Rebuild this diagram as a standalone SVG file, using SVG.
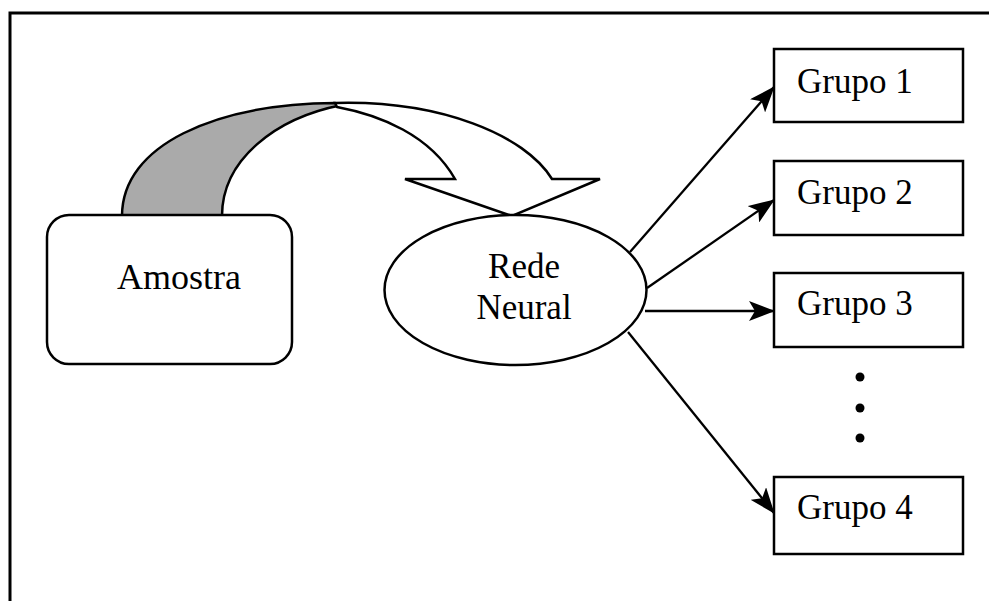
<svg xmlns="http://www.w3.org/2000/svg" width="989" height="601" viewBox="0 0 989 601">
  <defs>
    <marker id="ah" viewBox="0 0 26 20" refX="25" refY="10" markerWidth="26" markerHeight="20" markerUnits="userSpaceOnUse" orient="auto">
      <path d="M0,0 L26,10 L0,20 L6,10 Z" fill="#000"/>
    </marker>
    <style>
      .lbl { font-family: "Liberation Serif", "Times New Roman", serif; font-size: 35px; fill: #000; }
      .box { fill: #fff; stroke: #000; stroke-width: 2.5; }
      .conn { stroke: #000; stroke-width: 2.3; fill: none; marker-end: url(#ah); }
    </style>
  </defs>
  <rect x="0" y="0" width="989" height="601" fill="#fff"/>
  <g id="frame">
    <path d="M10,620 L10,13 L1000,13" fill="none" stroke="#000" stroke-width="3"/>
  </g>
  <g id="curved-arrow">
    <path d="M122,216 C122,145 215,104 335,103 L342,105 C275,118 222,160 222,216 Z" fill="#aaaaaa" stroke="#000" stroke-width="2.5"/>
    <path d="M335,103 C440,100 525,135 552,179 L600,179 L512,216 L405,179 L455,179 C430,135 380,115 337,107 Z" fill="#fff" stroke="#000" stroke-width="2.5" stroke-linejoin="miter"/>
  </g>
  <g id="amostra">
    <rect class="box" x="47" y="215" width="245" height="149" rx="22" ry="22"/>
    <text class="lbl" x="117" y="289" style="font-size:36px">Amostra</text>
  </g>
  <g id="rede-neural">
    <ellipse cx="515.5" cy="290" rx="131" ry="75" fill="#fff" stroke="#000" stroke-width="2.5"/>
    <text class="lbl" x="524" y="278" text-anchor="middle">Rede</text>
    <text class="lbl" x="524" y="319" text-anchor="middle">Neural</text>
  </g>
  <g id="grupo1">
    <rect class="box" x="774" y="49" width="189" height="73"/>
    <text class="lbl" x="797" y="93">Grupo 1</text>
  </g>
  <g id="grupo2">
    <rect class="box" x="774" y="161" width="189" height="74"/>
    <text class="lbl" x="797" y="204">Grupo 2</text>
  </g>
  <g id="grupo3">
    <rect class="box" x="774" y="273" width="189" height="74"/>
    <text class="lbl" x="797" y="315">Grupo 3</text>
  </g>
  <g id="grupo4">
    <rect class="box" x="774" y="477" width="189" height="77"/>
    <text class="lbl" x="797" y="519">Grupo 4</text>
  </g>
  <g id="ellipsis">
    <circle cx="860" cy="377" r="4.5" fill="#000"/>
    <circle cx="860" cy="408" r="4.5" fill="#000"/>
    <circle cx="860" cy="438" r="4.5" fill="#000"/>
  </g>
  <g id="connectors">
    <line class="conn" x1="630" y1="252" x2="774" y2="87"/>
    <line class="conn" x1="647" y1="288" x2="774" y2="200"/>
    <line class="conn" x1="645" y1="311" x2="774" y2="311"/>
    <line class="conn" x1="628" y1="332" x2="774" y2="513"/>
  </g>
</svg>
